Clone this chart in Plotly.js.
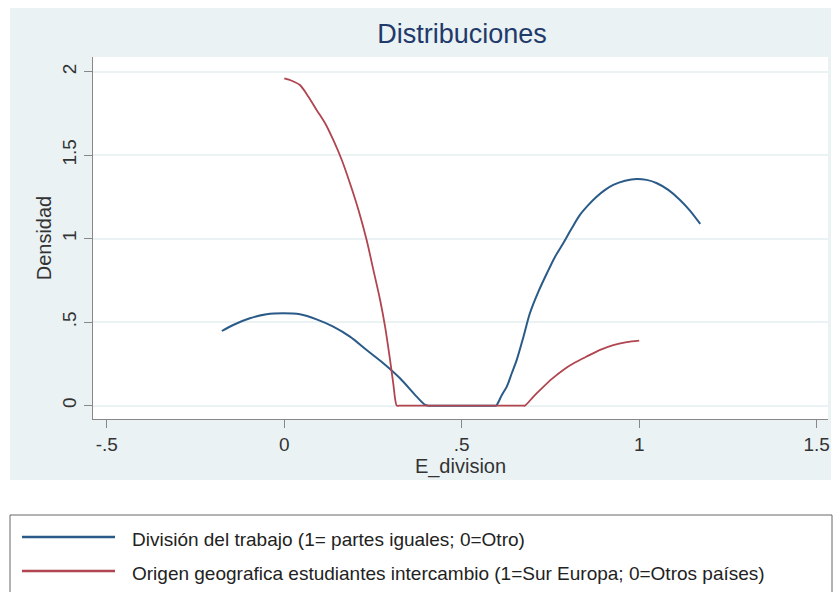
<!DOCTYPE html>
<html>
<head>
<meta charset="utf-8">
<script src="https://cdn.plot.ly/plotly-3.0.1.min.js"></script>
<style>html,body{margin:0;padding:0;background:#fff;}#chart{width:836px;height:592px;}</style>
</head>
<body>
<div id="chart"></div>
<script>
// ---- data ----
const seriesNames = [
  "División del trabajo (1= partes iguales; 0=Otro)",
  "Origen geografica estudiantes intercambio (1=Sur Europa; 0=Otros países)"
];
const divisionX = [-0.176,-0.144,-0.097,-0.050,-0.003,0.044,0.091,0.138,0.185,0.232,0.279,0.326,0.373,0.397,0.405,
  0.500,0.590,0.597,0.613,0.627,0.641,0.655,0.674,0.692,0.716,0.740,0.763,0.786,0.810,0.833,0.857,0.880,0.904,0.927,0.960,0.993,1.021,1.050,1.082,1.115,1.143,1.172];
const divisionY = [0.447,0.483,0.523,0.547,0.553,0.547,0.517,0.473,0.413,0.333,0.254,0.164,0.054,0.004,0.0,
  0.0,0.0,0.0,0.064,0.114,0.194,0.274,0.413,0.553,0.683,0.793,0.892,0.972,1.062,1.142,1.202,1.251,1.292,1.322,1.347,1.358,1.352,1.332,1.292,1.232,1.168,1.088];
const origenX = [0.000,0.021,0.044,0.068,0.091,0.115,0.138,0.162,0.185,0.209,0.232,0.251,0.270,0.284,0.298,0.307,0.317,0.324,
  0.500,0.671,0.678,0.702,0.721,0.754,0.786,0.819,0.852,0.890,0.927,0.965,1.000];
const origenY = [1.960,1.946,1.920,1.850,1.771,1.691,1.591,1.471,1.332,1.172,0.992,0.813,0.633,0.473,0.274,0.134,0.0,0.0,
  0.0,0.0,0.0,0.054,0.094,0.160,0.214,0.258,0.294,0.334,0.363,0.380,0.389];
const xTickVals = [-0.5, 0, 0.5, 1, 1.5];
const xTickText = ["-.5", "0", ".5", "1", "1.5"];
const yTickVals = [0, 0.5, 1, 1.5, 2];
const yTickText = ["0", ".5", "1", "1.5", "2"];
const chartTitle = "Distribuciones";
const xTitle = "E_division";
const yTitle = "Densidad";

// ---- layout helpers (pixel -> paper) ----
const W = 836, H = 592, L = 93, R = 828, T = 57, B = 419;
const px = x => (x - L) / (R - L);
const py = y => (B - y) / (B - T);
const colors = ["#2a5b88", "#b0454f"];
const FONT = "Liberation Sans, Arial, sans-serif";

const traces = [
  {x: divisionX, y: divisionY, type: "scatter", mode: "lines", name: seriesNames[0],
   line: {color: colors[0], width: 2, shape: "spline", smoothing: 0.8}, showlegend: false},
  {x: origenX, y: origenY, type: "scatter", mode: "lines", name: seriesNames[1],
   line: {color: colors[1], width: 1.8, shape: "spline", smoothing: 0.8}, showlegend: false}
];

const shapes = [
  {type: "rect", xref: "paper", yref: "paper", x0: px(10), x1: px(831), y0: py(480), y1: py(8),
   fillcolor: "#eaf2f3", line: {width: 0}, layer: "below"},
  {type: "rect", xref: "paper", yref: "paper", x0: 0, x1: 1, y0: 0, y1: 1,
   fillcolor: "#ffffff", line: {width: 0}, layer: "below"},
  {type: "rect", xref: "paper", yref: "paper", x0: px(10), x1: px(832), y0: py(620), y1: py(515),
   fillcolor: "rgba(0,0,0,0)", line: {width: 1, color: "#666"}, layer: "above"}
];
const legendY = [537, 571];
const annotations = [];
seriesNames.forEach((n, i) => {
  shapes.push({type: "line", xref: "paper", yref: "paper", x0: px(22), x1: px(115), y0: py(legendY[i]), y1: py(legendY[i]),
    line: {color: colors[i], width: 2.5}});
  annotations.push({xref: "paper", yref: "paper", x: px(130), y: py(legendY[i] + 2), xanchor: "left", yanchor: "middle",
    text: n, showarrow: false, font: {family: FONT, size: 19, color: "#222"}});
});

const layout = {
  width: W, height: H,
  margin: {l: L, r: W - R, t: T, b: H - B, pad: 0},
  paper_bgcolor: "#ffffff",
  plot_bgcolor: "#ffffff",
  font: {family: FONT, color: "#333"},
  title: {text: chartTitle, font: {family: FONT, size: 27, color: "#1f3a6b"},
          x: px(462), xref: "paper", xanchor: "center", y: 1 - 34 / H, yref: "container", yanchor: "middle"},
  xaxis: {
    range: [-0.539, 1.532], tickmode: "array", tickvals: xTickVals, ticktext: xTickText,
    showgrid: false, zeroline: false, showline: true, linecolor: "#888", linewidth: 1,
    ticks: "outside", ticklen: 8, tickcolor: "#888", tickwidth: 1,
    tickfont: {family: FONT, size: 19, color: "#333"},
    title: {text: xTitle, font: {family: FONT, size: 20, color: "#333"}, standoff: 4}
  },
  yaxis: {
    range: [-0.08, 2.088], tickmode: "array", tickvals: yTickVals, ticktext: yTickText,
    showgrid: true, gridcolor: "#eaf2f3", gridwidth: 2, zeroline: false,
    showline: true, linecolor: "#888", linewidth: 1,
    ticks: "outside", ticklen: 8, tickcolor: "#888", tickwidth: 1, tickangle: -90,
    tickfont: {family: FONT, size: 19, color: "#333"},
    title: {text: yTitle, font: {family: FONT, size: 20, color: "#333"}, standoff: 2}
  },
  shapes: shapes,
  annotations: annotations,
  showlegend: false
};

Plotly.newPlot("chart", traces, layout, {displayModeBar: false, staticPlot: true});
</script>
</body>
</html>
